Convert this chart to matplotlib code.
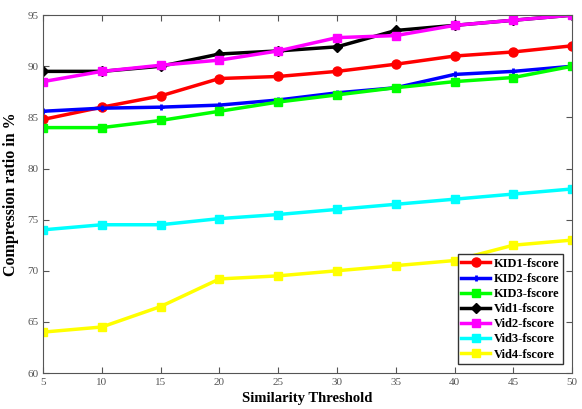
import matplotlib
matplotlib.use("Agg")
import matplotlib.pyplot as plt

thresholds = [5, 10, 15, 20, 25, 30, 35, 40, 45, 50]
kid1 = [84.8, 86.0, 87.1, 88.8, 89.0, 89.5, 90.2, 91.0, 91.4, 92.0]
kid2 = [85.6, 85.9, 86.0, 86.2, 86.7, 87.4, 87.9, 89.2, 89.5, 90.0]
kid3 = [84.0, 84.0, 84.7, 85.6, 86.5, 87.2, 87.9, 88.5, 88.9, 90.0]
vid1 = [89.5, 89.5, 90.0, 91.2, 91.5, 91.9, 93.5, 94.0, 94.5, 95.0]
vid2 = [88.5, 89.5, 90.1, 90.6, 91.5, 92.8, 93.0, 94.0, 94.5, 95.0]
vid3 = [74.0, 74.5, 74.5, 75.1, 75.5, 76.0, 76.5, 77.0, 77.5, 78.0]
vid4 = [64.0, 64.5, 66.5, 69.2, 69.5, 70.0, 70.5, 71.0, 72.5, 73.0]

series = [
    ("KID1-fscore", kid1, "#ff0000", "o", 6.5),
    ("KID2-fscore", kid2, "#0000ff", "+", 5),
    ("KID3-fscore", kid3, "#00ff00", "s", 5.5),
    ("Vid1-fscore", vid1, "#000000", "D", 5.5),
    ("Vid2-fscore", vid2, "#ff00ff", "s", 5.5),
    ("Vid3-fscore", vid3, "#00ffff", "s", 5.5),
    ("Vid4-fscore", vid4, "#ffff00", "s", 5.5),
]

plt.rcParams["font.family"] = ["Liberation Serif", "DejaVu Serif"]

fig = plt.figure(figsize=(5.82, 4.09), dpi=100)
ax = fig.add_axes([0.074, 0.088, 0.909, 0.875])

for label, vals, color, marker, ms in series:
    ax.plot(thresholds, vals, color=color, marker=marker, markersize=ms,
            markeredgewidth=2 if marker == "+" else 1, linewidth=2.5, label=label)

ax.set_xlim(5, 50)
ax.set_ylim(60, 95)
ax.set_xticks(thresholds)
ax.set_yticks(range(60, 96, 5))
ax.tick_params(direction="in", top=True, right=True, labelsize=8,
               labelcolor="#555555", color="#555555", length=4)
for s in ax.spines.values():
    s.set_color("#555555")

ax.set_xlabel("Similarity Threshold", fontsize=10.5, fontweight="bold", labelpad=4)
ax.set_ylabel("Compression ratio in %", fontsize=11.5, fontweight="bold", labelpad=6)

leg = ax.legend(loc="lower right", prop={"weight": "bold", "size": 9},
                fancybox=False, edgecolor="#333333", framealpha=1,
                handlelength=2.3, borderpad=0.3, labelspacing=0.25,
                handletextpad=0.3, borderaxespad=0.7)

fig.savefig("out.png", dpi=100)
